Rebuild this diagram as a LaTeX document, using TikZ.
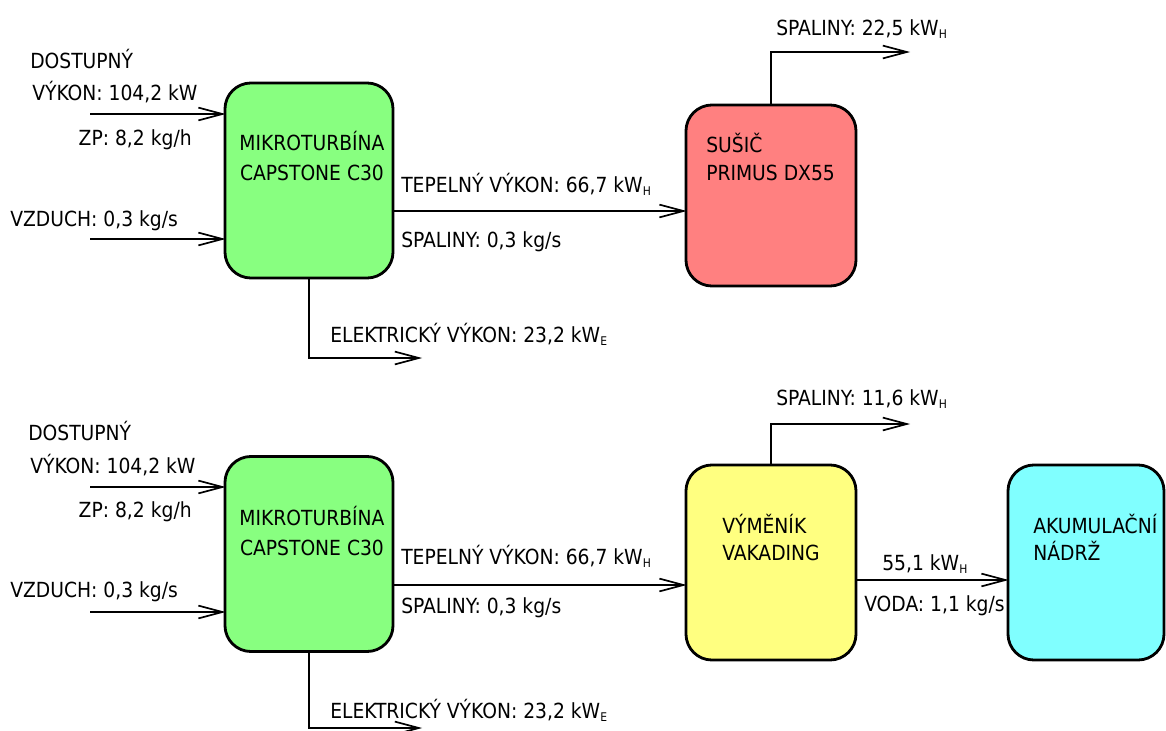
\documentclass[tikz,border=0pt]{standalone}
\usepackage{fontspec}
\setmainfont{DejaVu Sans Condensed}
\usetikzlibrary{positioning, calc, arrows.meta}

\definecolor{turbgreen}{RGB}{136,255,128}
\definecolor{dryred}{RGB}{255,128,128}
\definecolor{hexyellow}{RGB}{255,255,128}
\definecolor{tankcyan}{RGB}{128,255,255}

\newcommand{\flowsub}[1]{\raisebox{-0.3ex}{\fontsize{8.5}{9}\selectfont #1}}

\tikzset{
  unit/.style={draw, line width=2pt, rounded corners=0.65cm, inner sep=0pt,
               minimum width=4.2cm, minimum height=4.875cm},
  flow/.style={line width=1.2pt, shorten >=-1.5pt,
               -{Straight Barb[length=0.6cm, width=0.32cm, line width=1.2pt]}},
  lbl/.style={anchor=base west, inner sep=0pt, font=\fontsize{14.8}{17}\selectfont},
  lble/.style={lbl, anchor=base east},
  lblc/.style={lbl, anchor=base},
}

\begin{document}
\begin{tikzpicture}[x=0.025cm, y=-0.025cm]
    \useasboundingbox (0,0) rectangle (1166,731);

    % --- Top scheme: microturbine + dryer ---
    \node[unit, fill=turbgreen] (g1) at (309,180.5) {};
    \node[unit, fill=dryred, minimum width=4.25cm, minimum height=4.525cm] (d1) at (771,195.5) {};

    \node[lblc] (g1a) at (312,150) {MIKROTURBÍNA};
    \node[lblc] (g1b) at (312,180) {CAPSTONE C30};
    \node[lbl] (d1a) at (706,152) {SUŠIČ};
    \node[lbl] (d1b) at (706,180) {PRIMUS DX55};

    % inputs
    \coordinate (in1) at (90,114);
    \coordinate (in2) at (90,239);
    \node[lbl] (dost1) at (30,68) {DOSTUPNÝ};
    \node[lbl] (vyk1) at (32,100) {VÝKON: 104,2 kW};
    \node[lble] (zp1) at (192,145) {ZP: 8,2 kg/h};
    \node[lbl] (vzd1) at (10,226) {VZDUCH: 0,3 kg/s};
    \draw[flow] (in1) -- (in1 -| g1.west);
    \draw[flow] (in2) -- (in2 -| g1.west);

    % heat to dryer
    \coordinate (h1) at (400,211);
    \draw[flow] (g1.east |- h1) -- (d1.west |- h1);
    \node[lbl] (tep1) at (401,192) {TEPELNÝ VÝKON: 66,7 kW\flowsub{H}};
    \node[lbl] (spa1) at (401,247) {SPALINY: 0,3 kg/s};

    % exhaust from dryer
    \coordinate (ex1) at (908,52);
    \draw[flow] (d1.north) |- (ex1);
    \node[lbl] (spo1) at (776,35) {SPALINY: 22,5 kW\flowsub{H}};

    % electricity
    \coordinate (el1) at (420,358);
    \draw[flow] (g1.south) |- (el1);
    \node[lbl] (ele1) at (330,342) {ELEKTRICKÝ VÝKON: 23,2 kW\flowsub{E}};

    % --- Bottom scheme: microturbine + exchanger + tank ---
    \node[unit, fill=turbgreen] (g2) at (309,554) {};
    \node[unit, fill=hexyellow, minimum width=4.25cm] (v2) at (771,562.5) {};
    \node[unit, fill=tankcyan, minimum width=3.9cm] (a2) at (1086,562.5) {};

    \node[lblc] (g2a) at (312,525) {MIKROTURBÍNA};
    \node[lblc] (g2b) at (312,555) {CAPSTONE C30};
    \node[lbl] (v2a) at (722,533) {VÝMĚNÍK};
    \node[lbl] (v2b) at (722,560) {VAKADING};
    \node[lbl] (a2a) at (1033,533) {AKUMULAČNÍ};
    \node[lbl] (a2b) at (1033,560) {NÁDRŽ};

    % inputs
    \coordinate (in3) at (90,487);
    \coordinate (in4) at (90,612);
    \node[lbl] (dost2) at (28,440) {DOSTUPNÝ};
    \node[lbl] (vyk2) at (30,473) {VÝKON: 104,2 kW};
    \node[lble] (zp2) at (192,517) {ZP: 8,2 kg/h};
    \node[lbl] (vzd2) at (10,597) {VZDUCH: 0,3 kg/s};
    \draw[flow] (in3) -- (in3 -| g2.west);
    \draw[flow] (in4) -- (in4 -| g2.west);

    % heat to exchanger
    \coordinate (h2) at (400,585);
    \draw[flow] (g2.east |- h2) -- (v2.west |- h2);
    \node[lbl] (tep2) at (401,564) {TEPELNÝ VÝKON: 66,7 kW\flowsub{H}};
    \node[lbl] (spa2) at (401,613) {SPALINY: 0,3 kg/s};

    % exhaust from exchanger
    \coordinate (ex2) at (908,424);
    \draw[flow] (v2.north) |- (ex2);
    \node[lbl] (spo2) at (776,405) {SPALINY: 11,6 kW\flowsub{H}};

    % water to tank
    \coordinate (w2) at (860,580);
    \draw[flow] (v2.east |- w2) -- (a2.west |- w2);
    \node[lbl] (vh2) at (882,570) {55,1 kW\flowsub{H}};
    \node[lbl] (vod2) at (864,611) {VODA: 1,1 kg/s};

    % electricity
    \coordinate (el2) at (420,728);
    \draw[flow] (g2.south) |- (el2);
    \node[lbl] (ele2) at (330,718) {ELEKTRICKÝ VÝKON: 23,2 kW\flowsub{E}};

\end{tikzpicture}
\end{document}
